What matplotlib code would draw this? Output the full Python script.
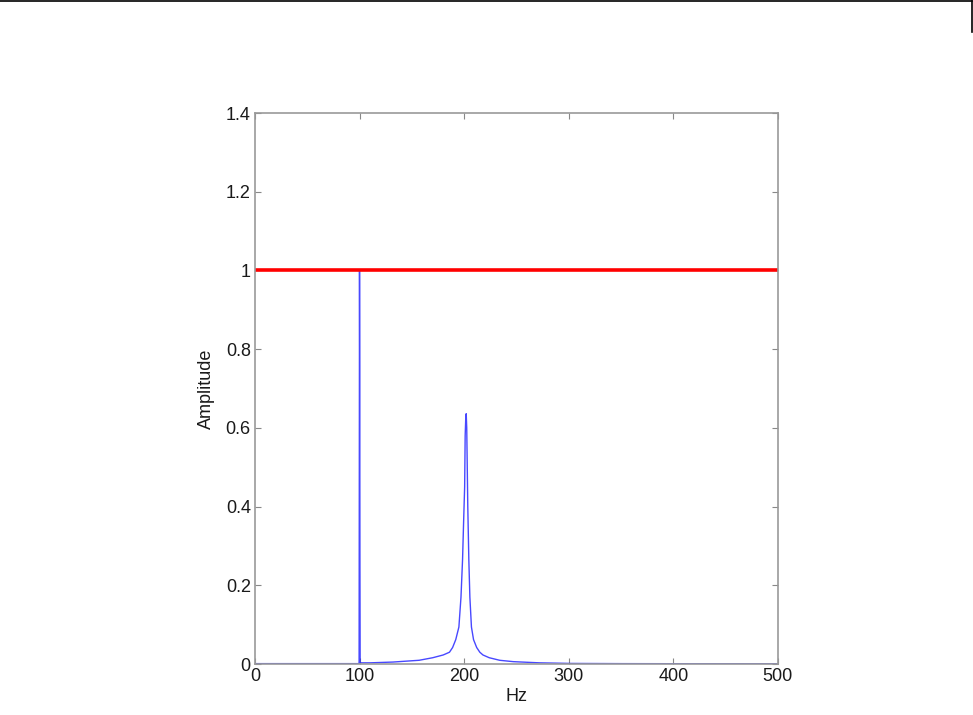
import matplotlib.pyplot as plt
from matplotlib.lines import Line2D

plt.rcParams['font.family'] = ['Liberation Sans', 'DejaVu Sans']

# spectrum
hz = [0, 50, 75, 90, 99, 99.6, 100, 100.2, 100.4, 100.6, 101, 102, 110, 132, 157,
      170, 180, 186, 189, 192, 195, 197, 198.5, 199.5, 200.5, 201, 201.5, 202,
      202.5, 203, 203.5, 204.5, 205.5, 207, 209, 212, 215, 218, 224, 234, 247, 272, 302,
      350, 400, 500]
amp = [0.001, 0.001, 0.001, 0.001, 0.001, 0.001, 1.0, 0.75, 0.25, 0.004, 0.003, 0.003, 0.003, 0.005, 0.0095,
       0.016, 0.023, 0.030, 0.042, 0.062, 0.094, 0.17, 0.265, 0.36, 0.45, 0.58, 0.62, 0.636,
       0.60, 0.50, 0.40, 0.265, 0.17, 0.094, 0.062, 0.042, 0.030, 0.023, 0.016, 0.0095, 0.006, 0.003, 0.0015,
       0.001, 0.0008, 0.0005]

ref_level = 1.0

xticks = [0, 100, 200, 300, 400, 500]
yticks = [0, 0.2, 0.4, 0.6, 0.8, 1, 1.2, 1.4]
ytick_labels = ['0', '0.2', '0.4', '0.6', '0.8', '1', '1.2', '1.4']

fig = plt.figure(figsize=(9.73, 7.15), dpi=100)
ax = fig.add_axes([0.262, 0.0713, 0.5375, 0.7706])

ax.plot(hz, amp, color='#2828ff', lw=1.0, alpha=0.85)
ax.axhline(ref_level, color='#ff0000', lw=2.6)

ax.set_xlim(0, 500)
ax.set_ylim(0, 1.4)
ax.set_xticks(xticks)
ax.set_yticks(yticks)
ax.set_yticklabels(ytick_labels)
ax.tick_params(direction='in', length=4, width=0.8, color='#888888',
               labelsize=13, labelcolor='#1a1a1a', top=True, right=True, pad=3)
for s in ax.spines.values():
    s.set_color('#999999')
    s.set_linewidth(1.2)

ax.set_xlabel('Hz', fontsize=13, color='#1a1a1a', labelpad=2)
ax.set_ylabel('Amplitude', fontsize=13, color='#1a1a1a', labelpad=8)

# page header rule
fig.add_artist(Line2D([0, 0.999], [0.9993, 0.9993], color='black', lw=1.2, transform=fig.transFigure))
fig.add_artist(Line2D([0.999, 0.999], [0.9993, 0.955], color='black', lw=1.2, transform=fig.transFigure))

fig.savefig('out.png', dpi=100)
